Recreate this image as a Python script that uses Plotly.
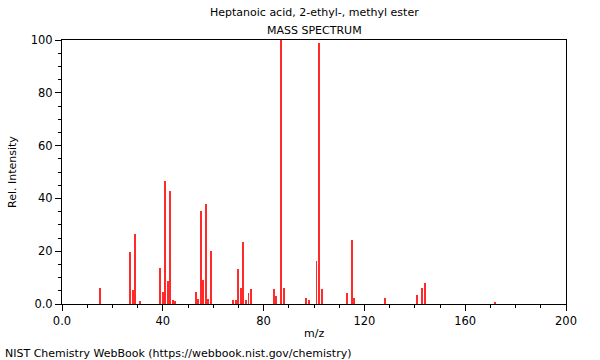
import plotly.graph_objects as go

mz = [15, 27, 28, 29, 31, 39, 40, 41, 42, 43, 44, 45, 53, 54, 55, 56, 57, 58, 59,
      68, 69, 70, 71, 72, 73, 74, 75, 84, 85, 87, 88, 97, 98, 101, 102, 103,
      113, 115, 116, 128, 141, 143, 144, 172]
intensity = [6.0, 19.8, 5.3, 26.4, 1.2, 13.5, 4.4, 46.6, 8.7, 42.8, 1.6, 1.2, 4.4, 1.9, 35.2, 9.1, 37.9, 1.9, 19.9,
             1.5, 1.5, 13.1, 6.2, 23.5, 1.5, 4.0, 5.5, 5.5, 3.0, 100.0, 5.9, 2.1, 1.5, 16.4, 99.0, 5.5,
             4.3, 24.2, 2.4, 2.4, 3.4, 5.9, 7.8, 0.5]

x_tickvals = [0, 40, 80, 120, 160, 200]
x_ticktext = ["0.0", "40", "80", "120", "160", "200"]
y_tickvals = [0, 20, 40, 60, 80, 100]
y_ticktext = ["0.0", "20", "40", "60", "80", "100"]

title_main = "Heptanoic acid, 2-ethyl-, methyl ester"
title_sub = "MASS SPECTRUM"
x_label = "m/z"
y_label = "Rel. Intensity"
footer = "NIST Chemistry WebBook (https://webbook.nist.gov/chemistry)"

FONT = "DejaVu Sans"

fig = go.Figure()
fig.add_trace(go.Bar(x=mz, y=intensity, width=0.36,
                     marker=dict(color="#ff2a2a", line=dict(width=0)),
                     hoverinfo="x+y"))

fig.update_layout(
    width=600, height=360,
    margin=dict(l=62, r=34, t=40, b=56),
    paper_bgcolor="white", plot_bgcolor="white",
    showlegend=False,
    font=dict(family=FONT, size=11, color="black"),
    bargap=0,
)

fig.update_xaxes(
    range=[0, 200], tickvals=x_tickvals, ticktext=x_ticktext,
    ticks="outside", ticklen=6, tickwidth=1, tickcolor="black",
    minor=dict(dtick=10, tick0=0, ticks="outside", ticklen=3, tickcolor="black", showgrid=False),
    showline=True, linecolor="black", linewidth=1, mirror=True,
    showgrid=False, zeroline=False,
    tickfont=dict(family=FONT, size=11.5, color="black"),
)
fig.update_yaxes(
    range=[0, 100], tickvals=y_tickvals, ticktext=y_ticktext,
    ticks="outside", ticklen=6, tickwidth=1, tickcolor="black",
    minor=dict(dtick=5, tick0=0, ticks="outside", ticklen=3, tickcolor="black", showgrid=False),
    showline=True, linecolor="black", linewidth=1, mirror=True,
    showgrid=False, zeroline=False,
    tickfont=dict(family=FONT, size=11.5, color="black"),
)

ann = dict(xref="paper", yref="paper", showarrow=False, font=dict(family=FONT, size=11, color="black"))
fig.add_annotation(text=title_main, x=0.5, y=1 + 27 / 264, xanchor="center", yanchor="middle", **ann)
fig.add_annotation(text=title_sub, x=0.5, y=1 + 10 / 264, xanchor="center", yanchor="middle", **ann)
fig.add_annotation(text=x_label, x=0.5, y=-(333 - 304) / 264, xanchor="center", yanchor="middle", **ann)
fig.add_annotation(text=y_label, x=(12 - 62) / 504, y=0.5, xanchor="center", yanchor="middle", textangle=-90, **ann)
fig.add_annotation(text=footer, x=(3 - 62) / 504, y=-(353 - 304) / 264, xanchor="left", yanchor="middle", **ann)

fig.write_html("out.html", config={"displayModeBar": False},
               post_script="document.body.style.margin='0';document.body.style.overflow='hidden';")
